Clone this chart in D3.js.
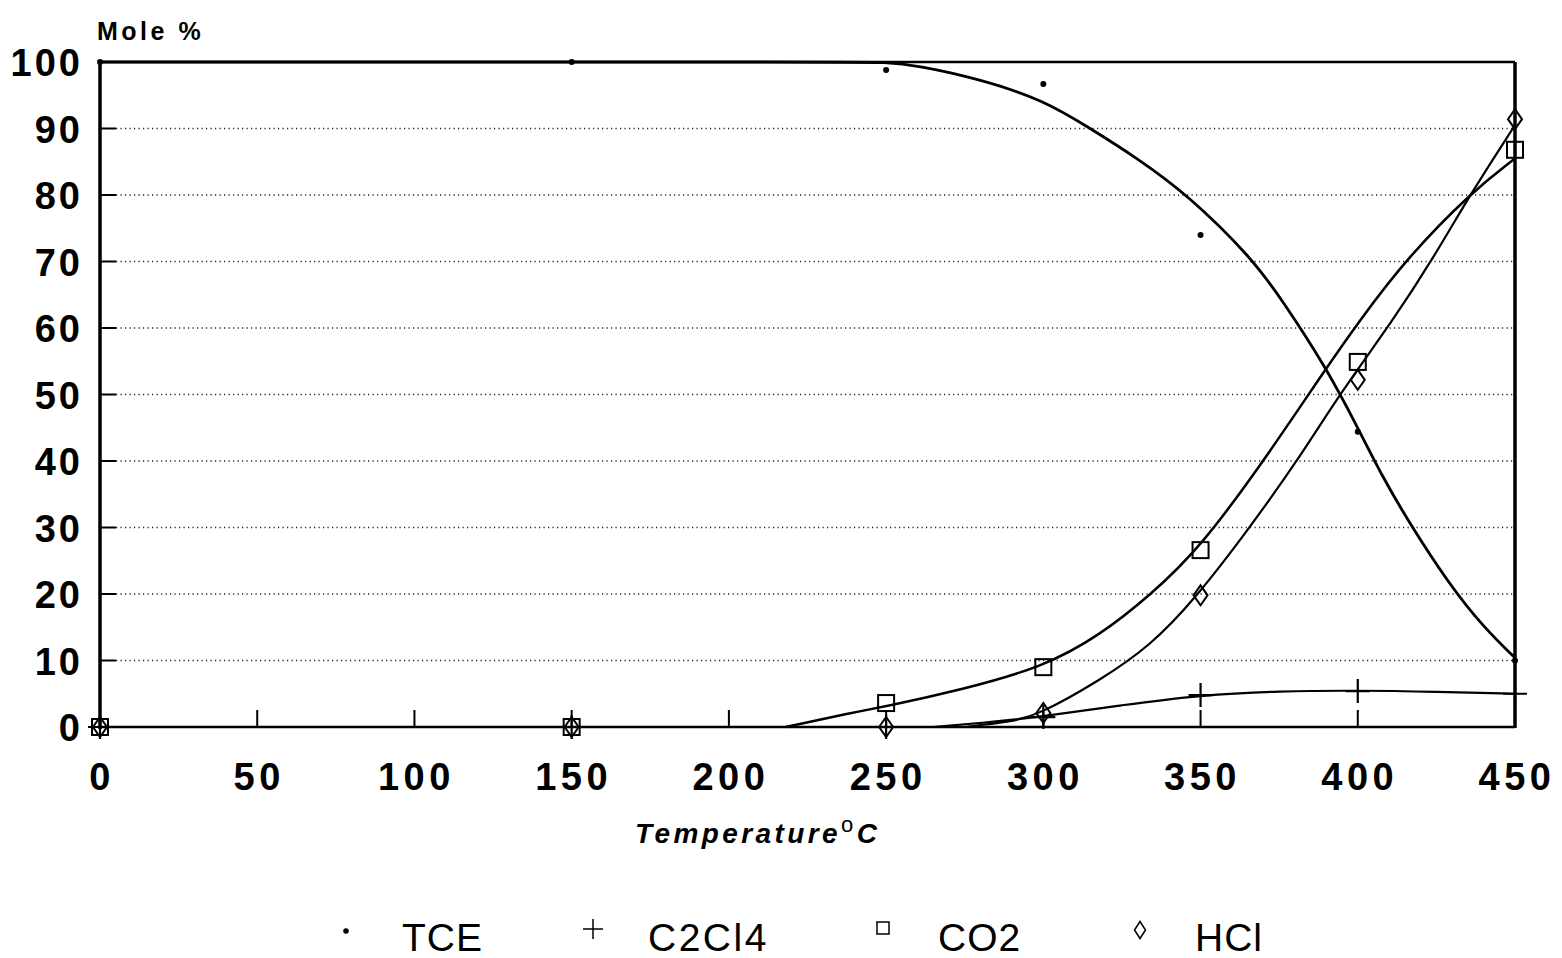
<!DOCTYPE html>
<html><head><meta charset="utf-8">
<script src="https://cdn.jsdelivr.net/npm/d3@7"></script>
<style>body{margin:0;background:#fff}</style>
</head><body><svg id="c" width="1562" height="958"></svg>
<script>
// measured points
const temps = [0,150,250,300,350,400,450];
const tce   = [100,100,98.8,96.7,74,44.4,10];
const c2cl4 = [0,0,0,1.5,4.8,5.4,5];
const co2   = [0,0,3.6,9,26.6,54.9,86.8];
const hcl   = [0,0,0,2.1,19.8,52.2,91.4];
// fitted curves
const tceFitX = [0,240,249,260,280,300,315,330,346,366,376,390,400,408,416,429,440,450];
const tceFitY = [100,100,100,99.5,97.4,94.3,90,85.5,80,70.7,64.2,54,45,37.5,31,21.5,15,10.4];
const co2FitX = [218,238.5,250,274,300,318,334,350,371,390,400.7,415.6,436.3,450];
const co2FitY = [0,2.1,3.1,5.6,9,13.8,19.8,27,40.6,54,61.2,70.5,80.5,85.5];
const hclFitX = [275,290,298.3,318,334,348,365.7,381.6,394.4,411.3,424,436.3,450];
const hclFitY = [0,0.8,1.8,7,12.2,19.1,30,40.6,50.2,61.2,70.5,80.5,90.5];
const c2FitX  = [265,285,300,325,350,375,400,425,450];
const c2FitY  = [0,0.8,1.6,3.3,4.8,5.4,5.5,5.3,5.0];
const xTicks = [0,50,100,150,200,250,300,350,400,450];
const yTicks = [0,10,20,30,40,50,60,70,80,90,100];
const legendNames = ["TCE","C2Cl4","CO2","HCl"];

const svg = d3.select("#c");
const x = d3.scaleLinear().domain([0,450]).range([100,1515]);
const y = d3.scaleLinear().domain([0,100]).range([727,62]);
const FONT = "'Liberation Sans', Arial, Helvetica, sans-serif";

// dotted gridlines
svg.append("g").selectAll("line").data(yTicks.filter(d=>d>0&&d<100)).join("line")
  .attr("x1",x(0)+16).attr("x2",x(450)).attr("y1",d=>y(d)).attr("y2",d=>y(d))
  .attr("stroke","#222").attr("stroke-width",1.4).attr("stroke-dasharray","1.2,3.3");
// y ticks
svg.append("g").selectAll("line").data(yTicks.filter(d=>d>0&&d<100)).join("line")
  .attr("x1",x(0)).attr("x2",x(0)+16).attr("y1",d=>y(d)).attr("y2",d=>y(d))
  .attr("stroke","#000").attr("stroke-width",2);
// x ticks
svg.append("g").selectAll("line").data(xTicks.filter(d=>d>0&&d<450)).join("line")
  .attr("x1",d=>x(d)).attr("x2",d=>x(d)).attr("y1",y(0)).attr("y2",y(0)-17)
  .attr("stroke","#000").attr("stroke-width",2);
// frame
svg.append("line").attr("x1",x(0)).attr("x2",x(450)).attr("y1",y(100)).attr("y2",y(100)).attr("stroke","#000").attr("stroke-width",2.5);
svg.append("line").attr("x1",x(0)).attr("x2",x(450)).attr("y1",y(0)).attr("y2",y(0)).attr("stroke","#000").attr("stroke-width",2.5);
svg.append("line").attr("x1",x(0)).attr("x2",x(0)).attr("y1",y(100)-2).attr("y2",y(0)+2).attr("stroke","#000").attr("stroke-width",3.5);
svg.append("line").attr("x1",x(450)).attr("x2",x(450)).attr("y1",y(100)).attr("y2",y(0)+1).attr("stroke","#000").attr("stroke-width",3.5);

// tick labels
svg.append("g").selectAll("text").data(yTicks).join("text")
  .attr("x",83).attr("y",d=>y(d)+14).attr("text-anchor","end")
  .attr("font-family",FONT).attr("font-weight","bold").attr("font-size",38).attr("letter-spacing",3)
  .text(d=>d);
svg.append("g").selectAll("text").data(xTicks).join("text")
  .attr("x",d=>x(d)+2).attr("y",790).attr("text-anchor","middle")
  .attr("font-family",FONT).attr("font-weight","bold").attr("font-size",38).attr("letter-spacing",4.5)
  .text(d=>d);
svg.append("text").attr("x",97).attr("y",40).attr("font-family",FONT).attr("font-weight","bold")
  .attr("font-size",25).attr("letter-spacing",3.5).text("Mole %");
const xt = svg.append("text").attr("x",635).attr("y",843).attr("font-family",FONT).attr("font-weight","bold")
  .attr("font-style","italic").attr("font-size",28).attr("letter-spacing",3.4);
xt.append("tspan").text("Temperature");
xt.append("tspan").attr("dy",-11).attr("font-size",22).attr("font-style","normal").attr("font-weight","normal").text("o");
xt.append("tspan").attr("dy",11).text("C");

// curves
const line = d3.line().x(d=>x(d[0])).y(d=>y(d[1])).curve(d3.curveBasis);
function fit(xs,ys,w){
  svg.append("path").datum(xs.map((v,i)=>[v,ys[i]])).attr("d",line)
    .attr("fill","none").attr("stroke","#000").attr("stroke-width",w);
}
fit(tceFitX,tceFitY,2.8);
fit(co2FitX,co2FitY,2.5);
fit(hclFitX,hclFitY,2.2);
fit(c2FitX,c2FitY,2.2);

// markers
function dot(g,cx,cy,r){g.append("circle").attr("cx",cx).attr("cy",cy).attr("r",r).attr("fill","#000");}
function plus(g,cx,cy,h,w){g.append("path").attr("d",`M${cx-h},${cy}H${cx+h}M${cx},${cy-h}V${cy+h}`).attr("stroke","#000").attr("stroke-width",w).attr("fill","none");}
function square(g,cx,cy,s,w){g.append("rect").attr("x",cx-s/2).attr("y",cy-s/2).attr("width",s).attr("height",s).attr("fill","none").attr("stroke","#000").attr("stroke-width",w);}
function diamond(g,cx,cy,hw,hh,w){g.append("path").attr("d",`M${cx},${cy-hh}L${cx+hw},${cy}L${cx},${cy+hh}L${cx-hw},${cy}Z`).attr("fill","none").attr("stroke","#000").attr("stroke-width",w);}

const mk = svg.append("g");
temps.forEach((t,i)=>{
  dot(mk,x(t),y(tce[i]),3);
  plus(mk,x(t),y(c2cl4[i]),12,2.2);
  square(mk,x(t),y(co2[i]),16,2);
  diamond(mk,x(t),y(hcl[i]),7,10,2);
});

// legend
const lg = svg.append("g");
const legX = [346,593,883,1140];
const legT = [402,648,938,1195];
dot(lg,legX[0],931,2.8);
plus(lg,legX[1],929,10,1.5);
square(lg,legX[2],928,12,1.5);
diamond(lg,legX[3],930,5.5,8.5,1.5);
lg.selectAll("text").data(legendNames).join("text")
  .attr("x",(d,i)=>legT[i]).attr("y",951)
  .attr("font-family",FONT).attr("font-size",39).attr("letter-spacing",(d,i)=>i===1?2.5:1)
  .text(d=>d);
</script></body></html>
